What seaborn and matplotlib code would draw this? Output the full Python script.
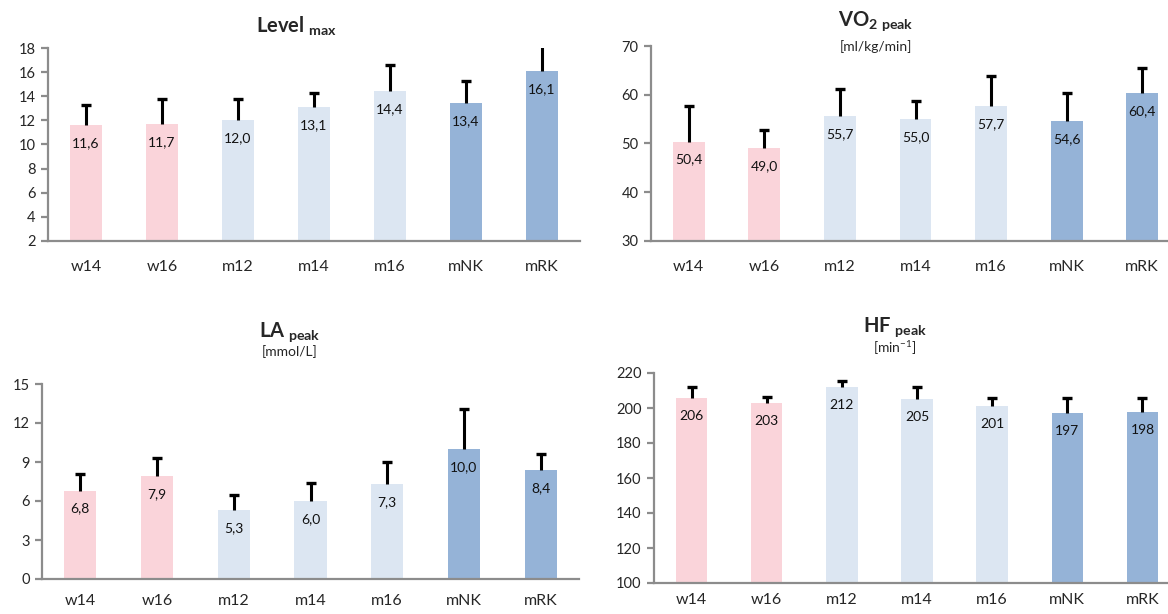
import numpy as np
import pandas as pd
import matplotlib
matplotlib.use("Agg")
import matplotlib.pyplot as plt
import seaborn as sns

sns.set_style("white")
plt.rcParams['font.family'] = ['Lato', 'DejaVu Sans']
plt.rcParams['mathtext.fontset'] = 'custom'
plt.rcParams['mathtext.rm'] = 'Lato'
plt.rcParams['mathtext.bf'] = 'Lato:bold'

# Data
groups = ["w14", "w16", "m12", "m14", "m16", "mNK", "mRK"]
group_colors = ["#FAD4DA", "#FAD4DA", "#DCE6F2", "#DCE6F2", "#DCE6F2", "#95B3D7", "#95B3D7"]

level_max = [11.6, 11.7, 12.0, 13.1, 14.4, 13.4, 16.1]
level_sd = [1.7, 2.1, 1.75, 1.2, 2.2, 1.9, 2.2]

vo2_peak = [50.4, 49.0, 55.7, 55.0, 57.7, 54.6, 60.4]
vo2_sd = [7.3, 3.8, 5.4, 3.8, 6.1, 5.7, 5.0]

la_peak = [6.8, 7.9, 5.3, 6.0, 7.3, 10.0, 8.4]
la_sd = [1.3, 1.4, 1.2, 1.4, 1.7, 3.1, 1.2]

hf_peak = [206, 203, 212, 205, 201, 197, 198]
hf_sd = [5.8, 3.5, 3.6, 6.8, 4.7, 8.7, 7.7]

W, H = 1168, 614
fig = plt.figure(figsize=(W / 100, H / 100), dpi=100)


def px_axes(left, top, right, bottom):
    return fig.add_axes([left / W, 1 - bottom / H, (right - left) / W, (bottom - top) / H])


def draw_panel(ax, values, sd, ylim, yticks, fmt, xpad=14):
    df = pd.DataFrame({"group": groups, "value": values, "sd": sd})
    sns.barplot(data=df, x="group", y="value", hue="group", palette=group_colors,
                width=0.42, legend=False, ax=ax, saturation=1, linewidth=0)
    x = np.arange(len(groups))
    top = df["value"] + df["sd"]
    # upper error bars only, cap at the top end
    ax.vlines(x, df["value"], top, color="black", linewidth=2.2, zorder=3)
    ax.plot(x, top, linestyle="none", marker="_", markersize=7, markeredgewidth=2.4,
            color="black", zorder=3)
    for i, v in enumerate(df["value"]):
        ax.annotate(fmt(v), (i, v), xytext=(0, -13), textcoords="offset points",
                    ha="center", va="center", fontsize=10, color="#111111")
    ax.set_ylim(*ylim)
    ax.set_xlim(-0.5, len(groups) - 0.5)
    ax.set_yticks(yticks)
    ax.set_xlabel("")
    ax.set_ylabel("")
    for s in ["top", "right"]:
        ax.spines[s].set_visible(False)
    for s in ["left", "bottom"]:
        ax.spines[s].set_color("#8C8C8C")
        ax.spines[s].set_linewidth(1.6)
    ax.set_xticks(np.arange(-0.5, len(groups)), minor=True)
    ax.tick_params(axis="x", which="major", length=0, pad=xpad, labelsize=11.5)
    ax.tick_params(axis="x", which="minor", length=5, width=1.6, color="#8C8C8C",
                   direction="out")
    ax.tick_params(axis="y", length=5, width=1.6, color="#8C8C8C", direction="out",
                   labelsize=10.5, pad=4, left=True)


def one_dec(v):
    return f"{v:.1f}".replace(".", ",")


def no_dec(v):
    return f"{v:.0f}"


ax1 = px_axes(48, 48, 580, 241)
draw_panel(ax1, level_max, level_sd, (2, 18), range(2, 19, 2), one_dec)

ax2 = px_axes(651, 46, 1180, 241)
draw_panel(ax2, vo2_peak, vo2_sd, (30, 70), range(30, 71, 10), one_dec)

ax3 = px_axes(42, 384, 579, 579)
draw_panel(ax3, la_peak, la_sd, (0, 15), range(0, 16, 3), one_dec, xpad=11)

ax4 = px_axes(654, 373, 1180, 583)
draw_panel(ax4, hf_peak, hf_sd, (100, 220), range(100, 221, 20), no_dec, xpad=7)

# Titles
def ftext(x, y, s, size, **kw):
    fig.text(x / W, 1 - y / H, s, fontsize=size, ha="center", va="center", **kw)

ftext(296, 26, r"$\mathbf{Level}_{\mathbf{\ max}}$", 14.5)
ftext(876, 21, r"$\mathbf{VO}_{\mathbf{2\ peak}}$", 14.5)
ftext(876, 47, "[ml/kg/min]", 10)
ftext(290, 332, r"$\mathbf{LA}_{\mathbf{\ peak}}$", 14.5)
ftext(290, 352, "[mmol/L]", 10)
ftext(895, 327, r"$\mathbf{HF}_{\mathbf{\ peak}}$", 14.5)
ftext(895, 348, r"[min$^{\mathrm{-1}}$]", 10)

fig.savefig("out.png", dpi=100)
